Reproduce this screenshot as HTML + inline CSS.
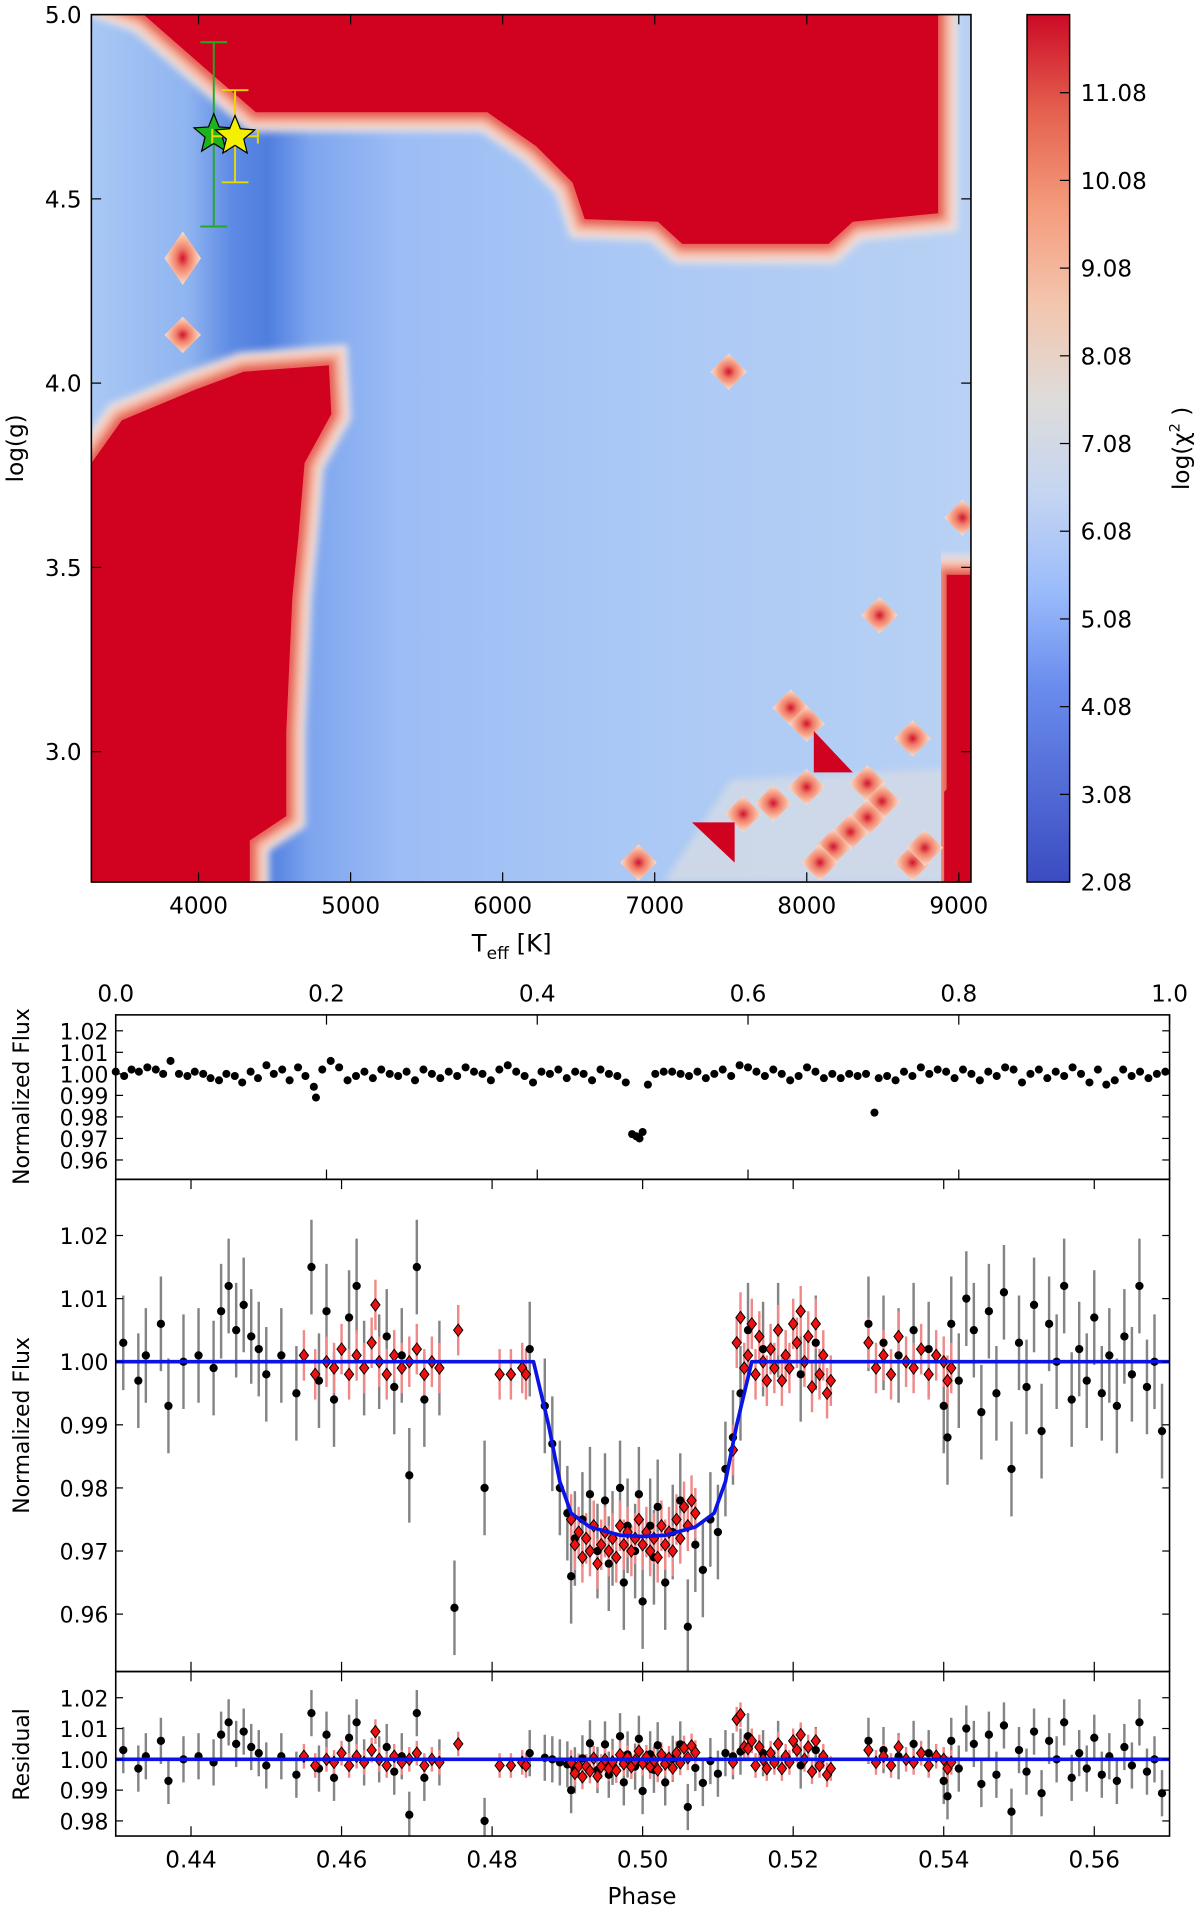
<!DOCTYPE html>
<html><head><meta charset="utf-8">
<style>
html,body{margin:0;padding:0;background:#fff;}
svg{display:block;font-family:"DejaVu Sans","Liberation Sans",sans-serif;}
</style></head>
<body>
<svg id="fig" width="1200" height="1914" viewBox="0 0 985 1571" preserveAspectRatio="none" xmlns="http://www.w3.org/2000/svg">
<defs>
<linearGradient id="blueH" gradientUnits="userSpaceOnUse" x1="75" y1="0" x2="797" y2="0">
<stop offset="0" stop-color="#a9c8f5"/>
<stop offset="0.11" stop-color="#8fb4f0"/>
<stop offset="0.16" stop-color="#5d8ae4"/>
<stop offset="0.2" stop-color="#4f7edf"/>
<stop offset="0.25" stop-color="#7ea5ee"/>
<stop offset="0.35" stop-color="#9cbdf5"/>
<stop offset="0.6" stop-color="#aac8f5"/>
<stop offset="1" stop-color="#b8d1f4"/>
</linearGradient>
<linearGradient id="cbar" x1="0" y1="1" x2="0" y2="0">
<stop offset="0" stop-color="#3b4cc0"/>
<stop offset="0.225" stop-color="#6a8ced"/>
<stop offset="0.335" stop-color="#9abbfb"/>
<stop offset="0.445" stop-color="#c4d5f2"/>
<stop offset="0.555" stop-color="#dedcdb"/>
<stop offset="0.665" stop-color="#f3c6ae"/>
<stop offset="0.78" stop-color="#f49a7b"/>
<stop offset="0.89" stop-color="#e4604e"/>
<stop offset="1" stop-color="#cc0a26"/>
</linearGradient>
<radialGradient id="dia">
<stop offset="0" stop-color="#d0142e"/>
<stop offset="0.35" stop-color="#ef7a66"/>
<stop offset="0.7" stop-color="#f8b49a"/>
<stop offset="1" stop-color="#f3dfd8"/>
</radialGradient>
<filter id="soft" x="-20%" y="-20%" width="140%" height="140%"><feGaussianBlur stdDeviation="3"/></filter>
<clipPath id="hmClip"><rect x="75" y="12" width="722" height="712"/></clipPath>
</defs>
<g id="heat" clip-path="url(#hmClip)"></g>
<g id="fg"></g>
</svg>
<script>
// ---------- heatmap data (Teff [K], log g) ----------
const hmXDomain = [3295, 9080];
const hmYDomain = [2.646, 5.0];
const hmXTicks = [4000, 5000, 6000, 7000, 8000, 9000];
const hmYTicks = [3.0, 3.5, 4.0, 4.5, 5.0];
const redTopT = [3300, 3639, 4096, 4377, 5899, 6220, 6460, 6540, 7021, 7181, 8143, 8303, 8864, 8864, 8864];
const redTopG = [5.05, 5.0, 4.835, 4.735, 4.735, 4.643, 4.544, 4.445, 4.438, 4.378, 4.378, 4.438, 4.461, 4.974, 5.05];
const redLeftT = [3295, 3295, 3495, 3976, 4296, 4857, 4873, 4697, 4657, 4617, 4577, 4577, 4337, 4337, 3295];
const redLeftG = [2.6, 3.783, 3.899, 3.982, 4.031, 4.048, 3.916, 3.783, 3.585, 3.42, 3.056, 2.825, 2.759, 2.6, 2.6];
const redRightT = [8920, 9100, 9100, 8920];
const redRightG = [3.48, 3.48, 2.6, 2.6];
const diaT = [3896, 3896, 7486, 8479, 8696, 7894, 7999, 7999, 7582, 8399, 8495, 8399, 8287, 8175, 8087, 6893, 8696, 8776, 9024, 7780];
const diaG = [4.339, 4.131, 4.031, 3.370, 3.036, 3.119, 3.076, 2.904, 2.831, 2.914, 2.865, 2.821, 2.782, 2.742, 2.699, 2.699, 2.699, 2.739, 3.635, 2.86];
const colorTicks = [2.08, 3.08, 4.08, 5.08, 6.08, 7.08, 8.08, 9.08, 10.08, 11.08];
const colorDomain = [2.08, 11.97];
const starT = [4100, 4240];
const starG = [4.675, 4.67];
const starErrT = [40, 150];
const starErrG = [0.25, 0.125];

// ---------- light curve data ----------
const topTicks = [0.0, 0.2, 0.4, 0.6, 0.8, 1.0];
const topYTicks = [0.96, 0.97, 0.98, 0.99, 1.00, 1.01, 1.02];
const topPhase = [0.000,0.008,0.015,0.022,0.030,0.038,0.045,0.052,0.060,0.068,0.075,0.083,0.090,0.098,0.105,0.113,0.120,0.128,0.135,0.143,0.150,0.158,0.165,0.173,0.180,0.188,0.190,0.196,0.204,0.212,0.220,0.228,0.236,0.244,0.252,0.260,0.268,0.276,0.284,0.292,0.300,0.308,0.316,0.324,0.332,0.340,0.348,0.356,0.364,0.372,0.380,0.388,0.396,0.404,0.412,0.420,0.428,0.436,0.444,0.452,0.460,0.468,0.476,0.484,0.490,0.494,0.497,0.500,0.505,0.512,0.520,0.528,0.536,0.544,0.552,0.560,0.568,0.576,0.584,0.592,0.600,0.608,0.616,0.624,0.632,0.640,0.648,0.656,0.664,0.672,0.680,0.688,0.696,0.704,0.712,0.720,0.724,0.732,0.740,0.748,0.756,0.764,0.772,0.780,0.788,0.796,0.804,0.812,0.820,0.828,0.836,0.844,0.852,0.860,0.868,0.876,0.884,0.892,0.900,0.908,0.916,0.924,0.932,0.940,0.948,0.956,0.964,0.972,0.980,0.988,0.996];
const topFlux = [1.001,0.999,1.002,1.001,1.003,1.002,1.000,1.006,1.000,0.999,1.001,1.000,0.998,0.997,1.000,0.999,0.996,1.001,0.998,1.004,1.000,1.002,0.997,1.003,0.999,0.994,0.989,1.002,1.006,1.003,0.997,0.999,1.001,0.998,1.002,1.000,0.999,1.001,0.997,1.002,1.000,0.998,1.001,0.999,1.003,1.001,1.000,0.997,1.002,1.004,1.001,0.999,0.996,1.001,1.000,1.002,0.998,1.001,1.000,0.997,1.002,1.000,0.999,0.996,0.972,0.971,0.970,0.973,0.995,1.000,1.001,1.001,1.000,0.999,1.001,0.998,1.000,1.002,0.999,1.004,1.003,1.001,0.999,1.002,1.000,0.997,0.999,1.003,1.001,0.998,1.000,0.998,1.000,0.999,1.000,0.982,0.998,0.999,0.997,1.001,0.999,1.003,1.000,1.002,1.001,0.998,1.002,1.000,0.997,1.001,0.999,1.003,1.002,0.996,1.000,1.002,0.998,1.001,0.999,1.003,1.000,0.996,1.002,0.995,0.997,1.002,0.999,1.001,0.998,1.000,1.001];

const phXTicks = [0.44, 0.46, 0.48, 0.50, 0.52, 0.54, 0.56];
const midYTicks = [0.96, 0.97, 0.98, 0.99, 1.00, 1.01, 1.02];
const resYTicks = [0.98, 0.99, 1.00, 1.01, 1.02];
const blackPhase = [0.431,0.433,0.434,0.436,0.437,0.439,0.441,0.443,0.444,0.445,0.446,0.447,0.448,0.449,0.450,0.452,0.454,0.456,0.457,0.458,0.459,0.461,0.462,0.463,0.465,0.466,0.467,0.468,0.469,0.470,0.471,0.473,0.475,0.479,0.485,0.487,0.488,0.489,0.490,0.4905,0.491,0.492,0.493,0.494,0.495,0.4955,0.496,0.497,0.4975,0.498,0.499,0.4995,0.500,0.501,0.5015,0.502,0.503,0.504,0.505,0.506,0.507,0.508,0.509,0.510,0.511,0.512,0.513,0.514,0.516,0.518,0.521,0.523,0.530,0.532,0.534,0.536,0.538,0.540,0.5405,0.541,0.542,0.543,0.544,0.545,0.546,0.547,0.548,0.549,0.550,0.551,0.552,0.553,0.554,0.555,0.556,0.557,0.558,0.559,0.560,0.561,0.562,0.563,0.564,0.565,0.566,0.567,0.568,0.569];
const blackFlux = [1.003,0.997,1.001,1.006,0.993,1.000,1.001,0.999,1.008,1.012,1.005,1.009,1.004,1.002,0.998,1.001,0.995,1.015,0.997,1.008,0.994,1.007,1.012,0.999,1.000,1.004,0.996,1.001,0.982,1.015,0.994,0.999,0.961,0.980,1.002,0.993,0.987,0.980,0.976,0.966,0.972,0.975,0.979,0.970,0.978,0.968,0.972,0.980,0.965,0.974,0.970,0.979,0.962,0.974,0.969,0.977,0.965,0.973,0.978,0.958,0.971,0.967,0.975,0.973,0.983,0.988,0.995,1.005,1.002,1.005,0.998,1.003,1.006,1.003,1.001,1.005,1.002,0.993,0.988,1.006,0.997,1.010,1.005,0.992,1.008,0.995,1.011,0.983,1.003,0.996,1.009,0.989,1.006,1.000,1.012,0.994,1.002,0.997,1.007,0.995,1.001,0.993,1.004,0.998,1.012,0.996,1.000,0.989];
const blackErr = 0.0075;
const redPhase = [0.455,0.4565,0.458,0.459,0.460,0.461,0.462,0.463,0.464,0.4645,0.465,0.466,0.467,0.468,0.469,0.470,0.471,0.472,0.473,0.4755,0.481,0.4825,0.484,0.4845,0.4905,0.491,0.4915,0.492,0.4925,0.493,0.4935,0.494,0.4945,0.495,0.4955,0.496,0.4965,0.497,0.4975,0.498,0.4985,0.499,0.4995,0.500,0.5005,0.501,0.5015,0.502,0.5025,0.503,0.5035,0.504,0.5045,0.505,0.5055,0.506,0.5065,0.507,0.512,0.5125,0.513,0.5135,0.514,0.5145,0.515,0.5155,0.516,0.5165,0.517,0.5175,0.518,0.5185,0.519,0.5195,0.520,0.5205,0.521,0.5215,0.522,0.5225,0.523,0.5235,0.524,0.5245,0.525,0.530,0.531,0.532,0.533,0.534,0.535,0.536,0.537,0.538,0.539,0.540,0.5405,0.541];
const redFlux = [1.001,0.998,1.000,0.999,1.002,0.998,1.001,0.999,1.003,1.009,1.000,0.998,1.001,0.999,1.000,1.002,0.998,1.000,0.999,1.005,0.998,0.998,0.999,0.998,0.975,0.971,0.973,0.969,0.972,0.970,0.974,0.968,0.971,0.973,0.970,0.972,0.969,0.974,0.971,0.973,0.970,0.972,0.975,0.971,0.973,0.970,0.972,0.969,0.974,0.971,0.973,0.970,0.975,0.972,0.977,0.974,0.978,0.976,0.986,1.003,1.007,0.999,1.001,1.006,0.998,1.004,1.000,0.997,1.002,0.999,1.005,0.997,1.001,0.999,1.006,1.003,1.008,1.000,1.004,0.996,1.006,0.998,1.001,0.995,0.997,1.003,0.999,1.001,0.998,1.004,1.000,0.999,1.002,0.998,1.001,1.000,0.997,0.999];
const redErr = 0.004;
const modelPhase = [0.43,0.4855,0.4875,0.489,0.4905,0.493,0.497,0.500,0.503,0.507,0.5095,0.511,0.5125,0.5145,0.57];
const modelFlux = [1.0,1.0,0.990,0.981,0.976,0.9738,0.9725,0.9723,0.9725,0.9738,0.976,0.981,0.990,1.0,1.0];

const NS = "http://www.w3.org/2000/svg";
const heat = document.getElementById('heat');
const fg = document.getElementById('fg');
function mk(tag, attrs, parent){const e=document.createElementNS(NS,tag);for(const k in attrs)e.setAttribute(k,attrs[k]);(parent||fg).appendChild(e);return e;}
function lin(d0,d1,r0,r1){return v=>r0+(v-d0)*(r1-r0)/(d1-d0);}
function txt(x,y,s,size,anchor,parent){const t=mk('text',{x:x,y:y,'font-size':size,'text-anchor':anchor||'middle',fill:'#000'},parent);t.textContent=s;return t;}

// ---------- heatmap ----------
const hx = lin(hmXDomain[0],hmXDomain[1],75,797);
const hy = lin(hmYDomain[0],hmYDomain[1],724,12);
let bg = mk('rect',{x:75,y:12,width:722,height:712,fill:'url(#blueH)'},heat);


let grey = mk('polygon',{points:[[600,640],[790,630],[797,724],[545,724]].map(p=>p.join(',')).join(' '),fill:'#d3dae6',opacity:0.85,filter:'url(#soft)'},heat);


function region(T,G,name){
  const pts=T.map((t,i)=>hx(t)+','+hy(G[i])).join(' ');
  const g=mk('g',{},heat);
  
  
  const edge=mk('g',{filter:'url(#soft)'},g);
  mk('polygon',{points:pts,fill:'none',stroke:'#efe2df','stroke-width':32,'stroke-linejoin':'miter'},edge);
  mk('polygon',{points:pts,fill:'none',stroke:'#f7b7a0','stroke-width':22,'stroke-linejoin':'miter'},edge);
  mk('polygon',{points:pts,fill:'none',stroke:'#e65a52','stroke-width':10,'stroke-linejoin':'miter'},edge);
  mk('polygon',{points:pts,fill:'#d0021f'},g);
}
region(redTopT,redTopG,'high-chi2-region-top');
region(redLeftT,redLeftG,'high-chi2-region-left');
region(redRightT,redRightG,'high-chi2-region-right');
diaT.forEach((t,i)=>{
  const cx=hx(t), cy=hy(diaG[i]), r=15, ry=(i===0)?22:15;
  const d=mk('polygon',{points:`${cx},${cy-ry} ${cx+r},${cy} ${cx},${cy+ry} ${cx-r},${cy}`,fill:'url(#dia)'},heat);
  
  
});
let tri1 = mk('polygon',{points:'668,600 668,634 700,634',fill:'#d0021f'},heat);


let tri2 = mk('polygon',{points:'568,675 603,675 603,708',fill:'#d0021f'},heat);


let tri3 = mk('polygon',{points:'797,625 797,724 775,724 775,650',fill:'#d0021f'},heat);



// stars & error bars
const starCol=['#1db31d','#f5f000'];
starT.forEach((t,i)=>{
  const cx=hx(t), cy=hy(starG[i]);
  const g=mk('g',{});
  
  
  const ec = i===0?'#22aa22':'#e8d800';
  const y1=hy(starG[i]+starErrG[i]), y2=hy(starG[i]-starErrG[i]);
  const x1=hx(t-starErrT[i]), x2=hx(t+starErrT[i]);
  mk('line',{x1:cx,y1:y1,x2:cx,y2:y2,stroke:ec,'stroke-width':1.6},g);
  mk('line',{x1:cx-11,y1:y1,x2:cx+11,y2:y1,stroke:ec,'stroke-width':1.6},g);
  mk('line',{x1:cx-11,y1:y2,x2:cx+11,y2:y2,stroke:ec,'stroke-width':1.6},g);
  mk('line',{x1:x1,y1:cy,x2:x2,y2:cy,stroke:ec,'stroke-width':1.6},g);
  mk('line',{x1:x1,y1:cy-6,x2:x1,y2:cy+6,stroke:ec,'stroke-width':1.6},g);
  mk('line',{x1:x2,y1:cy-6,x2:x2,y2:cy+6,stroke:ec,'stroke-width':1.6},g);
  const R=17, r=7.5; let p=[];
  for(let k=0;k<10;k++){const a=-Math.PI/2+k*Math.PI/5;const rr=k%2?r:R;p.push((cx+rr*Math.cos(a)).toFixed(1)+','+(cy+rr*Math.sin(a)).toFixed(1));}
  mk('polygon',{points:p.join(' '),fill:starCol[i],stroke:'#000','stroke-width':1},g);
});

// heatmap axes
let hf = mk('rect',{x:75,y:12,width:722,height:712,fill:'none',stroke:'#000','stroke-width':1.3});


hmXTicks.forEach(v=>{const x=hx(v);
  mk('line',{x1:x,y1:724,x2:x,y2:716,stroke:'#000'});mk('line',{x1:x,y1:12,x2:x,y2:20,stroke:'#000'});
  const t=txt(x,750,String(v),19);
  
  
});
hmYTicks.forEach(v=>{const y=hy(v);
  mk('line',{x1:75,y1:y,x2:83,y2:y,stroke:'#000'});mk('line',{x1:797,y1:y,x2:789,y2:y,stroke:'#000'});
  const t=txt(67,y+7,v.toFixed(1),19,'end');
  
  
});
let xl = mk('text',{x:420,y:781,'font-size':20,'text-anchor':'middle'});
xl.innerHTML='T<tspan font-size="14" dy="6">eff</tspan><tspan dy="-6"> [K]</tspan>';


let yl = txt(0,0,'log(g)',19);
yl.setAttribute('transform','translate(19,368) rotate(-90)');



// colorbar
const cy_ = lin(colorDomain[0],colorDomain[1],724,12);
let cb = mk('rect',{x:843,y:12,width:35,height:712,fill:'url(#cbar)',stroke:'#000','stroke-width':1.2});


colorTicks.forEach(v=>{const y=cy_(v);
  mk('line',{x1:870,y1:y,x2:878,y2:y,stroke:'#000'});
  const t=txt(887,y+7,v.toFixed(2),19,'start');
  
  
});
let cl = mk('text',{'font-size':19,'text-anchor':'middle',transform:'translate(976,368) rotate(-90)'});
cl.innerHTML='log(χ<tspan font-size="12" dy="-8">2</tspan><tspan dy="8"> )</tspan>';



// ---------- top light curve panel ----------
const tx = lin(0,1,95,960);
const ty = lin(0.951,1.0274,968,833);
topPhase.forEach((p,i)=>{
  const c=mk('circle',{cx:tx(p),cy:ty(topFlux[i]),r:3.3,fill:'#000'});
  
  
});
let tf = mk('rect',{x:95,y:833,width:865,height:135,fill:'none',stroke:'#000','stroke-width':1.3});


topTicks.forEach(v=>{const x=tx(v);
  mk('line',{x1:x,y1:833,x2:x,y2:841,stroke:'#000'});mk('line',{x1:x,y1:968,x2:x,y2:960,stroke:'#000'});
  const t=txt(x,822,v.toFixed(1),19);
  
  
});
topYTicks.forEach(v=>{const y=ty(v);
  mk('line',{x1:95,y1:y,x2:101,y2:y,stroke:'#000'});mk('line',{x1:960,y1:y,x2:954,y2:y,stroke:'#000'});
  const t=txt(89,y+7,v.toFixed(2),18,'end');
  
  
});
let tyl = txt(0,0,'Normalized Flux',18);
tyl.setAttribute('transform','translate(24,900) rotate(-90)');



// ---------- zoomed transit panel ----------
const px = lin(0.43,0.57,95,960);
const my = lin(0.9509,1.0289,1372,968);
const ry = lin(0.9751,1.0285,1507,1372);
function model(p){for(let i=0;i<modelPhase.length-1;i++){if(p>=modelPhase[i]&&p<=modelPhase[i+1]){const f=(p-modelPhase[i])/(modelPhase[i+1]-modelPhase[i]);return modelFlux[i]+f*(modelFlux[i+1]-modelFlux[i]);}}return 1;}
function panelPoints(yfun,top,bot,resid,tag){
  const g=mk('g',{});
  
  
  const clip=(v)=>Math.max(top,Math.min(bot,v));
  blackPhase.forEach((p,i)=>{
    const f=resid?blackFlux[i]-model(p)+1:blackFlux[i];
    mk('line',{x1:px(p),y1:clip(yfun(f+blackErr)),x2:px(p),y2:clip(yfun(f-blackErr)),stroke:'#6f6f6f','stroke-width':2,opacity:0.85},g);
  });
  redPhase.forEach((p,i)=>{
    const f=resid?redFlux[i]-model(p)+1:redFlux[i];
    mk('line',{x1:px(p),y1:clip(yfun(f+redErr)),x2:px(p),y2:clip(yfun(f-redErr)),stroke:'#f08a8a','stroke-width':2},g);
  });
  blackPhase.forEach((p,i)=>{
    const f=resid?blackFlux[i]-model(p)+1:blackFlux[i];
    const y=yfun(f); if(y<top||y>bot)return;
    const c=mk('circle',{cx:px(p),cy:y,r:3.4,fill:'#000'},g);
    
    
  });
  redPhase.forEach((p,i)=>{
    const f=resid?redFlux[i]-model(p)+1:redFlux[i];
    const x=px(p), y=yfun(f);
    const d=mk('polygon',{points:`${x},${y-5} ${x+3.8},${y} ${x},${y+5} ${x-3.8},${y}`,fill:'#ee1111',stroke:'#000','stroke-width':0.8},g);
    
    
  });
}
panelPoints(my,968,1372,false,'transit');
let ml = mk('polyline',{points:modelPhase.map((p,i)=>px(p)+','+my(modelFlux[i])).join(' '),fill:'none',stroke:'#0a14e6','stroke-width':3,'stroke-linejoin':'round'});


panelPoints(ry,1372,1507,true,'residual');
let rl = mk('line',{x1:95,y1:ry(1.0),x2:960,y2:ry(1.0),stroke:'#0a14e6','stroke-width':3});



let mf = mk('rect',{x:95,y:968,width:865,height:404,fill:'none',stroke:'#000','stroke-width':1.3});


let rf = mk('rect',{x:95,y:1372,width:865,height:135,fill:'none',stroke:'#000','stroke-width':1.3});


phXTicks.forEach(v=>{const x=px(v);
  [[968,976],[1372,1364],[1372,1380],[1507,1499]].forEach(s=>mk('line',{x1:x,y1:s[0],x2:x,y2:s[1],stroke:'#000'}));
  const t=txt(x,1533,v.toFixed(2),19);
  
  
});
midYTicks.forEach(v=>{const y=my(v);
  mk('line',{x1:95,y1:y,x2:101,y2:y,stroke:'#000'});mk('line',{x1:960,y1:y,x2:954,y2:y,stroke:'#000'});
  const t=txt(89,y+7,v.toFixed(2),18,'end');
  
  
});
resYTicks.forEach(v=>{const y=ry(v);
  mk('line',{x1:95,y1:y,x2:101,y2:y,stroke:'#000'});mk('line',{x1:960,y1:y,x2:954,y2:y,stroke:'#000'});
  const t=txt(89,y+7,v.toFixed(2),18,'end');
  
  
});
let myl = txt(0,0,'Normalized Flux',18);
myl.setAttribute('transform','translate(24,1170) rotate(-90)');


let ryl = txt(0,0,'Residual',18);
ryl.setAttribute('transform','translate(24,1440) rotate(-90)');


let pxl = txt(527,1563,'Phase',19);


</script>
</body></html>
